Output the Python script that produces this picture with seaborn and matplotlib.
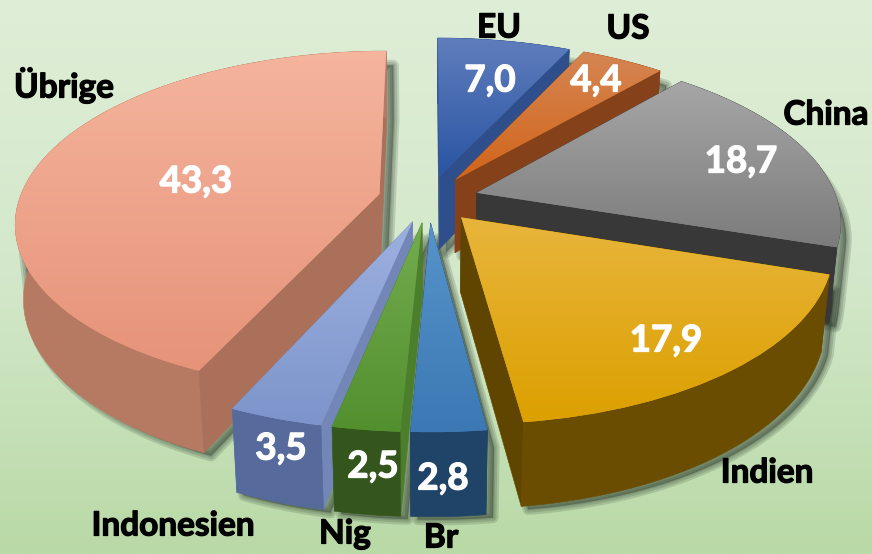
import numpy as np
import matplotlib
matplotlib.use("Agg")
import matplotlib.pyplot as plt
import matplotlib.patheffects as pe
import matplotlib.transforms as mtransforms
from matplotlib.patches import Polygon
import seaborn as sns

# ---------- data ----------
categories = ["EU", "US", "China", "Indien", "Br", "Nig", "Indonesien", "Übrige"]
shares = [7.0, 4.4, 18.7, 17.9, 2.8, 2.5, 3.5, 43.3]
share_labels = ["7,0", "4,4", "18,7", "17,9", "2,8", "2,5", "3,5", "43,3"]

# ---------- styles ----------
top_light = ["#5f7dbc", "#d58552", "#a6a6a6", "#e8b53c", "#5794cb", "#74ab50", "#9db0e0", "#f5b49c"]
top_dark = ["#2a55a3", "#d2651a", "#7c7c7c", "#dca000", "#3c78b3", "#52902e", "#7d95cb", "#e6937a"]
cut_col = ["#2f4f8c", "#85421a", "#383838", "#5f4500", "#1f4468", "#4b7f2c", "#7286b8", "#aa7059"]
arc_col = ["#1d3f7c", "#85421a", "#383838", "#6a4d00", "#1f4468", "#34561d", "#566a9c", "#b67a62"]
draw_order = [0, 1, 2, 7, 3, 6, 5, 4]
value_pos = [(490, 81), (596, 81), (741, 162), (666, 341), (443, 479), (373, 467), (281, 449), (196, 182)]
cat_pos = [(499, 28), (628, 29), (826, 115), (767, 473), (441, 538), (345, 534), (173, 526), (64, 85)]

# ---------- camera ----------
CX, CY, FOCAL, DIST, PHI, DEPTH = 428.5, 199.0, 1998.0, 5.55, np.radians(27.7), 0.237


def project(x, y, z):
    w = DIST + y * np.cos(PHI) - z * np.sin(PHI)
    return CX + FOCAL * x / w, CY - FOCAL * (y * np.sin(PHI) + z * np.cos(PHI)) / w


class Camera(mtransforms.Transform):
    input_dims = output_dims = 2
    is_separable = False
    has_inverse = False

    def transform_non_affine(self, values):
        values = np.asarray(values, dtype=float)
        return np.column_stack(project(values[:, 0], values[:, 1], 0.0))


def hull(points):
    pts = sorted(set(map(tuple, np.round(points, 3))))
    def half(seq):
        out = []
        for p in seq:
            while len(out) > 1 and ((out[-1][0]-out[-2][0])*(p[1]-out[-2][1]) - (out[-1][1]-out[-2][1])*(p[0]-out[-2][0])) <= 0:
                out.pop()
            out.append(p)
        return out[:-1]
    return np.array(half(pts) + half(pts[::-1]))


sns.set_theme(style="white")
plt.rcParams["font.family"] = ["Lato", "DejaVu Sans"]
fig = plt.figure(figsize=(8.72, 5.54), dpi=100)
ax = fig.add_axes([0, 0, 1, 1])

wedges, _ = ax.pie(shares, explode=[0.14] * len(shares), startangle=90, counterclock=False, radius=1.0)
ax.set_aspect("auto")
ax.axis("off")

bg = sns.blend_palette(["#dfeed7", "#d3e8ca", "#b9d9a6"], as_cmap=True)
ax.imshow(np.linspace(0, 1, 256)[:, None], cmap=bg, extent=(0, 872, 554, 0), aspect="auto", zorder=0)

cam = Camera() + ax.transData


def outline(w, z, n=80):
    t = np.radians(np.linspace(w.theta1, w.theta2, n))
    x = np.r_[w.center[0], w.center[0] + w.r * np.cos(t)]
    y = np.r_[w.center[1], w.center[1] + w.r * np.sin(t)]
    return np.column_stack(project(x, y, z))


# soft shadows on the background only
for w in wedges:
    shape = hull(np.vstack([outline(w, -0.04), outline(w, -DEPTH)])) + np.array([7.0, 3.0])
    for lw in (8, 5, 2):
        ax.add_patch(Polygon(shape, closed=True, fc="#2c3b2c", ec="#2c3b2c", lw=lw, alpha=0.17,
                             joinstyle="round", zorder=1))

z = 2
for i in draw_order:
    w = wedges[i]
    a, b = outline(w, 0.0), outline(w, -DEPTH)
    faces = [(np.vstack([a[1:], b[1:][::-1]]), arc_col[i], w.center[1] + np.sin(np.radians((w.theta1 + w.theta2) / 2))),
             (np.vstack([a[[0, 1]], b[[1, 0]]]), cut_col[i], w.center[1] + 0.5 * np.sin(np.radians(w.theta1))),
             (np.vstack([a[[0, -1]], b[[-1, 0]]]), cut_col[i], w.center[1] + 0.5 * np.sin(np.radians(w.theta2)))]
    for pts, col, _ in sorted(faces, key=lambda f: -f[2]):
        ax.add_patch(Polygon(pts, closed=True, fc=col, ec=col, lw=0.4, zorder=z))
        z += 1
    w.set_transform(cam)
    w.set_facecolor(top_dark[i])
    w.set_edgecolor("none")
    w.set_linewidth(0)
    w.set_zorder(z)
    z += 1
    cmap = sns.blend_palette([top_light[i], top_dark[i]], as_cmap=True)
    ymin, ymax = a[:, 1].min(), a[:, 1].max()
    im = ax.imshow(np.linspace(0, 1, 64)[:, None], cmap=cmap, extent=(0, 872, ymax, ymin), aspect="auto", zorder=z)
    im.set_clip_path(w)
    z += 1

for label, (x, y) in zip(share_labels, value_pos):
    ax.text(x, y, label, color="white", fontsize=26.5, fontweight="bold", ha="center", va="center", zorder=z,
            path_effects=[pe.withStroke(linewidth=0.9, foreground="white")])
for label, (x, y) in zip(categories, cat_pos):
    ax.text(x, y, label, color="black", fontsize=24, fontweight="bold", ha="center", va="center", zorder=z,
            path_effects=[pe.withStroke(linewidth=0.9, foreground="black")])

ax.set_xlim(0, 872)
ax.set_ylim(554, 0)
fig.savefig("out.png", dpi=100)
